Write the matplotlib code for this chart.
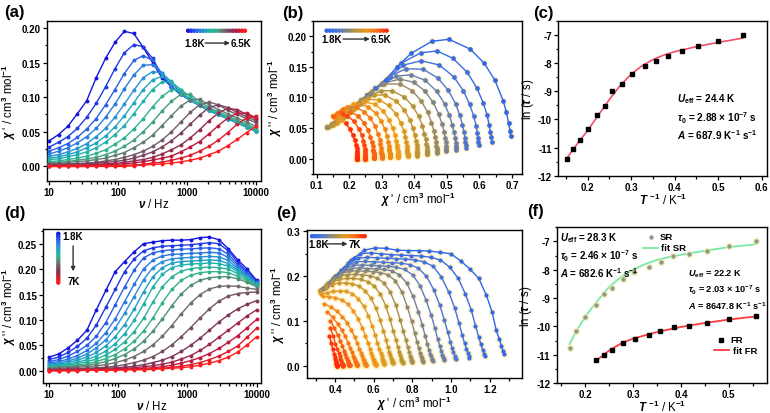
import numpy as np
import matplotlib.pyplot as plt
import matplotlib.ticker as mticker
from matplotlib.colors import LinearSegmentedColormap

plt.rcParams['font.family'] = ['Liberation Sans', 'DejaVu Sans']
plt.rcParams['font.weight'] = 'bold'
plt.rcParams['mathtext.fontset'] = 'custom'
plt.rcParams['mathtext.rm'] = 'Liberation Sans:bold'
plt.rcParams['mathtext.it'] = 'Liberation Sans:bold:italic'
plt.rcParams['mathtext.bf'] = 'Liberation Sans:bold'

# ---------------- data ----------------
freq = [10, 13.7, 18.7, 25.6, 35.1, 48.0, 65.8, 90.0, 123, 169, 231, 316, 433,
        593, 811, 1110, 1520, 2080, 2848, 3900, 5337, 7306, 10000]

temps1 = [1.8, 2.0, 2.2, 2.4, 2.6, 2.8, 3.0, 3.3, 3.6, 3.9, 4.2, 4.5, 5.0, 5.5, 6.0, 6.5]
temps2 = [1.8, 2.0, 2.2, 2.4, 2.6, 2.8, 3.0, 3.3, 3.6, 3.9, 4.2, 4.5, 5.0, 5.5, 6.0, 6.5, 7.0]

# sample 1, chi'' vs frequency (panel a), one row per temperature
chi2_s1 = [
    [.037, .046, .058, .076, .095, .128, .156, .179, .195, .192, .172, .150, .128, .115, .104, .096, .088, .081, .075, .069, .063, .057, .051],
    [.028, .035, .043, .055, .071, .091, .115, .141, .164, .176, .173, .156, .131, .115, .104, .096, .088, .081, .075, .069, .063, .057, .051],
    [.022, .027, .033, .042, .054, .069, .089, .111, .134, .153, .160, .153, .134, .115, .104, .096, .088, .081, .075, .069, .063, .057, .051],
    [.018, .022, .027, .034, .043, .055, .071, .090, .112, .132, .146, .147, .135, .116, .104, .096, .088, .081, .075, .069, .063, .057, .051],
    [.015, .017, .021, .026, .033, .043, .055, .071, .090, .110, .128, .137, .135, .122, .104, .096, .088, .081, .075, .069, .063, .057, .051],
    [.012, .014, .017, .021, .027, .034, .044, .057, .073, .092, .111, .125, .130, .123, .107, .096, .088, .081, .075, .069, .063, .057, .051],
    [.010, .011, .014, .017, .021, .027, .035, .046, .059, .076, .094, .111, .122, .122, .111, .096, .088, .081, .075, .069, .063, .057, .051],
    [.007, .008, .010, .012, .015, .019, .024, .032, .041, .054, .069, .086, .101, .111, .111, .101, .090, .083, .077, .071, .065, .059, .053],
    [.005, .006, .007, .009, .011, .013, .017, .022, .029, .038, .050, .064, .080, .094, .104, .104, .094, .085, .079, .073, .067, .061, .055],
    [.004, .005, .006, .007, .008, .010, .012, .016, .020, .027, .035, .045, .059, .073, .087, .096, .097, .089, .082, .076, .070, .064, .058],
    [.003, .003, .004, .004, .005, .006, .008, .010, .013, .017, .022, .029, .038, .050, .064, .078, .089, .093, .089, .081, .075, .069, .063],
    [.003, .003, .003, .004, .004, .005, .006, .007, .009, .012, .016, .021, .028, .037, .048, .061, .074, .085, .089, .085, .078, .072, .066],
    [.001, .002, .002, .002, .002, .003, .004, .004, .006, .008, .010, .013, .018, .024, .031, .041, .053, .066, .077, .084, .082, .075, .069],
    [.001, .001, .001, .002, .002, .002, .003, .003, .004, .005, .007, .009, .012, .015, .021, .028, .036, .047, .059, .070, .077, .077, .070],
    [.000, .000, .000, .000, .000, .001, .001, .001, .002, .002, .003, .005, .006, .009, .012, .016, .022, .029, .038, .049, .061, .070, .073],
    [.000, .000, .000, .000, .000, .000, .000, .000, .000, .001, .002, .003, .0035, .005, .0065, .009, .012, .017, .022, .030, .039, .049, .058],
]

# sample 1, chi' at the same frequencies (panel b x values)
chi1_s1 = [
    [.696, .694, .690, .683, .673, .648, .615, .572, .507, .455, .390, .347, .312, .281, .256, .237, .218, .202, .188, .174, .160, .146, .132],
    [.638, .636, .634, .630, .624, .612, .593, .563, .519, .470, .420, .360, .315, .281, .256, .237, .218, .202, .188, .174, .160, .146, .132],
    [.598, .597, .596, .594, .590, .583, .570, .551, .521, .477, .422, .367, .325, .281, .256, .237, .218, .202, .188, .174, .160, .146, .132],
    [.559, .558, .557, .556, .553, .548, .540, .527, .504, .472, .428, .375, .326, .284, .256, .237, .218, .202, .188, .174, .160, .146, .132],
    [.529, .529, .528, .527, .526, .522, .517, .508, .493, .469, .434, .390, .345, .302, .256, .237, .218, .202, .188, .174, .160, .146, .132],
    [.499, .499, .499, .498, .497, .495, .492, .485, .475, .458, .432, .398, .356, .302, .263, .237, .218, .202, .188, .174, .160, .146, .132],
    [.470, .470, .469, .469, .468, .467, .464, .460, .453, .441, .422, .394, .357, .307, .271, .237, .218, .202, .188, .174, .160, .146, .132],
    [.440, .440, .439, .439, .439, .438, .437, .435, .431, .425, .414, .395, .369, .332, .298, .258, .234, .212, .198, .184, .170, .156, .142],
    [.410, .410, .410, .409, .409, .409, .408, .407, .405, .402, .396, .386, .369, .345, .309, .277, .241, .223, .208, .194, .180, .166, .152],
    [.380, .380, .380, .380, .380, .379, .379, .379, .378, .376, .373, .368, .358, .344, .321, .293, .256, .225, .214, .205, .192, .178, .164],
    [.350, .350, .350, .350, .350, .350, .350, .349, .349, .348, .347, .345, .341, .334, .322, .304, .279, .246, .213, .193, .184, .175, .169],
    [.325, .325, .325, .325, .325, .325, .325, .325, .325, .324, .323, .322, .320, .316, .310, .299, .282, .258, .225, .192, .175, .165, .157],
    [.300, .300, .300, .300, .300, .300, .300, .300, .300, .300, .299, .299, .298, .296, .294, .288, .280, .265, .246, .220, .181, .162, .151],
    [.275, .275, .275, .275, .275, .275, .275, .275, .275, .275, .275, .275, .274, .273, .272, .269, .265, .258, .245, .227, .203, .175, .151],
    [.250, .250, .250, .250, .250, .250, .250, .250, .250, .250, .250, .250, .250, .249, .249, .248, .246, .244, .239, .230, .215, .195, .182],
    [.225, .225, .225, .225, .225, .225, .225, .225, .225, .225, .225, .225, .225, .225, .225, .224, .224, .223, .221, .217, .211, .202, .189],
]

# sample 2, chi'' vs frequency (panel d)
chi2_s2 = [
    [.027, .033, .045, .060, .080, .120, .158, .195, .215, .234, .250, .253, .256, .257, .257, .258, .262, .263, .258, .240, .218, .200, .178],
    [.022, .027, .036, .048, .064, .090, .125, .160, .195, .220, .236, .242, .245, .246, .247, .248, .250, .252, .250, .236, .213, .195, .176],
    [.018, .022, .029, .038, .050, .068, .095, .130, .165, .198, .222, .232, .236, .238, .239, .240, .241, .242, .240, .229, .209, .192, .174],
    [.015, .018, .023, .030, .040, .054, .075, .102, .136, .170, .200, .218, .226, .229, .230, .231, .232, .233, .232, .223, .205, .189, .173],
    [.013, .015, .019, .025, .033, .045, .061, .084, .113, .146, .179, .203, .215, .220, .222, .223, .224, .225, .224, .217, .201, .187, .172],
    [.011, .013, .016, .021, .027, .036, .049, .067, .091, .121, .155, .185, .203, .212, .215, .216, .217, .218, .217, .211, .198, .185, .171],
    [.009, .011, .013, .017, .022, .029, .039, .053, .073, .099, .131, .165, .190, .203, .208, .210, .211, .212, .211, .206, .195, .183, .170],
    [.008, .009, .011, .014, .018, .023, .031, .042, .057, .077, .103, .135, .165, .185, .196, .201, .203, .204, .203, .200, .191, .180, .169],
    [.007, .008, .009, .011, .014, .018, .024, .032, .043, .058, .078, .104, .134, .160, .178, .188, .193, .195, .195, .193, .186, .177, .167],
    [.006, .007, .008, .009, .011, .014, .018, .024, .032, .043, .058, .078, .102, .128, .151, .168, .178, .183, .185, .185, .181, .174, .165],
    [.004, .005, .006, .007, .008, .010, .012, .016, .021, .028, .038, .051, .068, .089, .112, .133, .150, .161, .166, .167, .166, .163, .160],
    [.003, .003, .004, .004, .005, .006, .007, .009, .012, .016, .021, .028, .038, .051, .067, .085, .104, .122, .137, .147, .152, .154, .155],
    [.002, .002, .003, .003, .003, .004, .005, .006, .007, .009, .012, .016, .021, .028, .038, .050, .064, .080, .096, .110, .122, .131, .138],
    [.001, .001, .002, .002, .002, .003, .003, .004, .005, .006, .008, .010, .013, .017, .023, .030, .040, .052, .066, .080, .094, .108, .120],
    [.001, .001, .001, .001, .002, .002, .002, .003, .003, .004, .005, .006, .008, .011, .015, .020, .026, .034, .044, .056, .069, .085, .101],
    [.000, .000, .001, .001, .001, .001, .002, .002, .002, .003, .003, .004, .005, .007, .009, .012, .016, .022, .029, .038, .049, .066, .084],
    [.000, .000, .000, .000, .001, .001, .001, .001, .002, .002, .002, .003, .004, .005, .006, .008, .011, .015, .020, .027, .037, .051, .067],
]

# sample 2, chi' (panel e x values)
chi1_s2 = [
    [1.275, 1.268, 1.260, 1.249, 1.233, 1.212, 1.182, 1.143, 1.099, 1.050, .998, .943, .888, .832, .776, .720, .664, .607, .551, .497, .447, .401, .360],
    [1.175, 1.170, 1.163, 1.154, 1.143, 1.126, 1.104, 1.074, 1.037, .993, .945, .895, .844, .792, .741, .689, .636, .584, .531, .480, .433, .390, .351],
    [1.095, 1.091, 1.086, 1.079, 1.070, 1.058, 1.041, 1.018, .987, .950, .907, .860, .812, .764, .715, .666, .616, .567, .517, .469, .424, .383, .345],
    [1.025, 1.022, 1.018, 1.012, 1.005, .996, .983, .965, .941, .910, .872, .830, .785, .739, .693, .646, .600, .553, .506, .460, .417, .377, .340],
    [.965, .962, .959, .954, .949, .941, .930, .916, .897, .871, .839, .801, .759, .716, .672, .628, .584, .539, .494, .451, .409, .371, .335],
    [.905, .903, .900, .896, .892, .886, .877, .866, .851, .830, .803, .770, .733, .692, .651, .609, .567, .525, .483, .441, .402, .365, .330],
    [.855, .853, .851, .848, .844, .839, .833, .824, .812, .796, .774, .745, .711, .674, .634, .594, .554, .514, .473, .433, .395, .359, .325],
    [.800, .798, .796, .794, .791, .787, .782, .775, .766, .753, .736, .714, .685, .652, .616, .579, .540, .502, .463, .425, .388, .353, .320],
    [.750, .749, .747, .745, .743, .740, .736, .731, .723, .714, .701, .684, .662, .634, .602, .568, .532, .495, .459, .422, .386, .352, .320],
    [.700, .699, .697, .696, .694, .692, .689, .685, .679, .672, .663, .650, .633, .612, .585, .555, .523, .489, .454, .420, .385, .352, .320],
    [.655, .654, .653, .652, .650, .648, .646, .643, .640, .635, .628, .619, .608, .592, .572, .548, .519, .489, .456, .423, .390, .357, .325],
    [.610, .609, .609, .608, .607, .605, .604, .602, .600, .597, .593, .587, .580, .570, .557, .541, .520, .495, .467, .435, .402, .369, .335],
    [.560, .560, .559, .558, .557, .557, .555, .554, .553, .551, .548, .545, .540, .534, .526, .515, .501, .484, .462, .437, .409, .378, .345],
    [.515, .515, .514, .514, .513, .513, .512, .511, .510, .509, .507, .505, .502, .498, .493, .487, .478, .467, .452, .434, .413, .388, .360],
    [.475, .475, .475, .474, .474, .474, .473, .473, .472, .471, .470, .469, .467, .465, .462, .458, .453, .447, .438, .427, .413, .396, .375],
    [.440, .440, .440, .440, .439, .439, .439, .439, .438, .438, .437, .436, .435, .434, .432, .430, .427, .424, .418, .411, .402, .391, .375],
    [.410, .410, .410, .410, .410, .410, .410, .409, .409, .409, .408, .408, .407, .407, .406, .404, .403, .401, .398, .393, .388, .380, .370],
]

# panel c: ln(tau) vs 1/T, sample 1
invT_c = [0.154, 0.166, 0.182, 0.201, 0.222, 0.239, 0.257, 0.279, 0.303, 0.332, 0.358, 0.385, 0.417, 0.454, 0.500, 0.556]
lntau_c = [-11.41, -11.05, -10.72, -10.33, -9.86, -9.54, -9.00, -8.74, -8.39, -8.09, -7.93, -7.75, -7.56, -7.39, -7.21, -7.00]
fit_x_c = [0.154, 0.175, 0.2, 0.225, 0.25, 0.275, 0.3, 0.325, 0.35, 0.375, 0.4, 0.45, 0.5, 0.556]
fit_y_c = [-11.35, -10.9, -10.4, -9.85, -9.3, -8.8, -8.4, -8.1, -7.88, -7.72, -7.6, -7.42, -7.27, -7.12]

# panel f: sample 2, slow (SR) and fast (FR) relaxation
invT_sr = [0.167, 0.180, 0.199, 0.223, 0.239, 0.255, 0.278, 0.302, 0.333, 0.358, 0.383, 0.417, 0.455, 0.500, 0.556]
lntau_sr = [-10.77, -10.15, -9.66, -9.25, -8.86, -8.64, -8.31, -8.09, -7.90, -7.73, -7.53, -7.46, -7.32, -7.15, -7.00]
invT_fr = [0.222, 0.238, 0.256, 0.278, 0.303, 0.333, 0.357, 0.385, 0.417, 0.455, 0.500, 0.556]
lntau_fr = [-11.20, -11.00, -10.82, -10.60, -10.43, -10.30, -10.17, -10.02, -9.98, -9.87, -9.75, -9.65]
fit_x_sr = [0.167, 0.18, 0.2, 0.225, 0.25, 0.275, 0.3, 0.325, 0.35, 0.375, 0.4, 0.45, 0.5, 0.556]
fit_y_sr = [-10.62, -10.2, -9.65, -9.1, -8.6, -8.25, -8.0, -7.8, -7.65, -7.55, -7.47, -7.33, -7.2, -7.1]
fit_x_fr = [0.222, 0.25, 0.275, 0.3, 0.35, 0.4, 0.45, 0.5, 0.556]
fit_y_fr = [-11.22, -10.85, -10.6, -10.43, -10.2, -10.02, -9.88, -9.76, -9.65]

# ---------------- colours ----------------
cm_freq = LinearSegmentedColormap.from_list('freq', ['#1414e0', '#2a5fe8', '#2a8fd8', '#1fb0b0', '#35b38a',
                                                     '#6f6f6f', '#7a3a5e', '#c0183c', '#ff1c1c'])
cm_cole = LinearSegmentedColormap.from_list('cole', ['#2f66e8', '#4674dc', '#7d8490', '#b89438',
                                                     '#eb9a1e', '#f6701a', '#ff2a10'])

LAB = 8.3


def style(ax):
    for s in ax.spines.values():
        s.set_linewidth(1.0)
    ax.tick_params(which='both', direction='out', labelsize=7, width=0.9, top=False, right=False, pad=1.5)
    ax.tick_params(which='major', length=3)
    ax.tick_params(which='minor', length=1.8)


def dot_row(ax, x0, x1, y, n, cmap):
    xs = np.linspace(x0, x1, n)
    ax.scatter(xs, [y] * n, s=5, c=[cmap(i / (n - 1)) for i in range(n)],
               transform=ax.transAxes, zorder=5, clip_on=False)


def arrow(ax, x0, y0, x1, y1):
    ax.annotate('', xy=(x1, y1), xytext=(x0, y0), xycoords='axes fraction',
                arrowprops=dict(arrowstyle='-|>', color='#333333', lw=1.0, mutation_scale=6,
                                shrinkA=0, shrinkB=0))


fig = plt.figure(figsize=(7.7, 4.14), dpi=100)
axa = fig.add_axes([0.0610, 0.5604, 0.2779, 0.3865])
axb = fig.add_axes([0.4069, 0.5773, 0.2706, 0.3696])
axc = fig.add_axes([0.7251, 0.5732, 0.2710, 0.3744])
axd = fig.add_axes([0.0562, 0.0725, 0.2827, 0.3720])
axe = fig.add_axes([0.3983, 0.0846, 0.2792, 0.3575])
axf = fig.add_axes([0.7230, 0.0725, 0.2731, 0.3760])

ylab_chi2 = r"$\chi$ '' / cm$^3$ mol$^{-1}$"
xlab_chi1 = r"$\chi$ ' / cm$^3$ mol$^{-1}$"

# ----- (a) -----
n1 = len(temps1)
for i in range(n1):
    col = cm_freq(i / (n1 - 1))
    axa.plot(freq, chi2_s1[i], '-', color=col, lw=1.0, zorder=2)
    axa.plot(freq, chi2_s1[i], 'o', color=col, ms=2.8, mec='none', zorder=3)
axa.set_xscale('log')
axa.set_xlim(9.3, 11800)
axa.set_ylim(-0.021, 0.21)
axa.xaxis.set_major_formatter(mticker.FuncFormatter(lambda v, p: f'{v:g}'))
axa.yaxis.set_major_locator(mticker.MultipleLocator(0.05))
axa.yaxis.set_minor_locator(mticker.MultipleLocator(0.025))
axa.yaxis.set_major_formatter(mticker.FormatStrFormatter('%.2f'))
axa.set_ylabel(r"$\chi$ ' / cm$^3$ mol$^{-1}$", fontsize=LAB)
axa.set_xlabel(r"$\nu$ / Hz", fontsize=LAB, labelpad=0)
axa.yaxis.set_label_coords(-0.135, 0.5)
style(axa)
dot_row(axa, 0.66, 0.925, 0.939, 20, cm_freq)
axa.text(0.64, 0.862, '1.8K', transform=axa.transAxes, fontsize=7, va='center')
arrow(axa, 0.74, 0.862, 0.855, 0.862)
axa.text(0.86, 0.862, '6.5K', transform=axa.transAxes, fontsize=7, va='center')

# ----- (b) -----
for i in range(n1):
    col = cm_cole(i / (n1 - 1))
    axb.plot(chi1_s1[i], chi2_s1[i], 'o', color='#ffe9a0', ms=5.5, mec='none', alpha=0.45, zorder=1)
    axb.plot(chi1_s1[i], chi2_s1[i], '-', color=col, lw=1.0, zorder=2)
    axb.plot(chi1_s1[i], chi2_s1[i], 'o', color=col, ms=3.4, mec='none', zorder=3)
axb.set_xlim(0.09, 0.73)
axb.set_ylim(-0.025, 0.225)
axb.xaxis.set_major_locator(mticker.MultipleLocator(0.1))
axb.xaxis.set_minor_locator(mticker.MultipleLocator(0.05))
axb.xaxis.set_major_formatter(mticker.FormatStrFormatter('%.1f'))
axb.yaxis.set_major_locator(mticker.MultipleLocator(0.05))
axb.yaxis.set_minor_locator(mticker.MultipleLocator(0.025))
axb.yaxis.set_major_formatter(mticker.FormatStrFormatter('%.2f'))
axb.set_ylabel(ylab_chi2, fontsize=LAB)
axb.set_xlabel(xlab_chi1, fontsize=LAB, labelpad=0)
axb.yaxis.set_label_coords(-0.14, 0.5)
style(axb)
dot_row(axb, 0.064, 0.352, 0.937, 20, cm_cole)
axb.text(0.04, 0.882, '1.8K', transform=axb.transAxes, fontsize=7, va='center')
arrow(axb, 0.143, 0.882, 0.271, 0.882)
axb.text(0.277, 0.882, '6.5K', transform=axb.transAxes, fontsize=7, va='center')

# ----- (c) -----
axc.plot(fit_x_c, fit_y_c, '-', color='#f0506a', lw=1.2, zorder=2)
axc.plot(invT_c, lntau_c, 's', color='black', ms=3.4, zorder=3)
axc.set_xlim(0.133, 0.612)
axc.set_ylim(-12, -6.5)
axc.xaxis.set_major_locator(mticker.MultipleLocator(0.1))
axc.xaxis.set_minor_locator(mticker.MultipleLocator(0.05))
axc.xaxis.set_major_formatter(mticker.FormatStrFormatter('%.1f'))
axc.yaxis.set_major_locator(mticker.MultipleLocator(1))
axc.yaxis.set_minor_locator(mticker.MultipleLocator(0.5))
axc.yaxis.set_major_formatter(mticker.FormatStrFormatter('%d'))
axc.set_ylabel(r"ln ($\tau$ / s)", fontsize=LAB)
axc.set_xlabel(r"$T$ $^{-1}$ / K$^{-1}$", fontsize=LAB, labelpad=0)
axc.yaxis.set_label_coords(-0.105, 0.5)
style(axc)
axc.text(0.569, 0.501, r"$U_\mathrm{eff}$ = 24.4 K", transform=axc.transAxes, fontsize=7.2, va='center')
axc.text(0.569, 0.379, r"$\tau_0$ = 2.88 $\times$ 10$^{-7}$ s", transform=axc.transAxes, fontsize=7.2, va='center')
axc.text(0.569, 0.269, r"$A$ = 687.9 K$^{-1}$ s$^{-1}$", transform=axc.transAxes, fontsize=7.2, va='center')

# ----- (d) -----
n2 = len(temps2)
for i in range(n2):
    col = cm_freq(i / (n2 - 1))
    axd.plot(freq, chi2_s2[i], '-', color=col, lw=1.0, zorder=2)
    axd.plot(freq, chi2_s2[i], 'o', color=col, ms=2.8, mec='none', zorder=3)
axd.set_xscale('log')
axd.set_xlim(8.2, 11550)
axd.set_ylim(-0.024, 0.279)
axd.xaxis.set_major_formatter(mticker.FuncFormatter(lambda v, p: f'{v:g}'))
axd.yaxis.set_major_locator(mticker.MultipleLocator(0.05))
axd.yaxis.set_minor_locator(mticker.MultipleLocator(0.025))
axd.yaxis.set_major_formatter(mticker.FormatStrFormatter('%.2f'))
axd.set_ylabel(ylab_chi2, fontsize=LAB)
axd.set_xlabel(r"$\nu$ / Hz", fontsize=LAB, labelpad=0)
axd.yaxis.set_label_coords(-0.117, 0.5)
style(axd)
ys = np.linspace(0.968, 0.652, 20)
axd.scatter([0.069] * 20, ys, s=5, c=[cm_freq(i / 19) for i in range(20)],
            transform=axd.transAxes, zorder=5)
axd.text(0.086, 0.955, '1.8K', transform=axd.transAxes, fontsize=7, va='center')
arrow(axd, 0.137, 0.89, 0.137, 0.725)
axd.text(0.114, 0.66, '7K', transform=axd.transAxes, fontsize=7, va='center')

# ----- (e) -----
for i in range(n2):
    col = cm_cole(i / (n2 - 1))
    axe.plot(chi1_s2[i], chi2_s2[i], 'o', color='#ffe9a0', ms=5.5, mec='none', alpha=0.45, zorder=1)
    axe.plot(chi1_s2[i], chi2_s2[i], '-', color=col, lw=1.0, zorder=2)
    axe.plot(chi1_s2[i], chi2_s2[i], 'o', color=col, ms=3.0, mec='none', zorder=3)
axe.set_xlim(0.253, 1.365)
axe.set_ylim(-0.027, 0.303)
axe.xaxis.set_major_locator(mticker.MultipleLocator(0.2))
axe.xaxis.set_minor_locator(mticker.MultipleLocator(0.1))
axe.xaxis.set_major_formatter(mticker.FormatStrFormatter('%.1f'))
axe.yaxis.set_major_locator(mticker.MultipleLocator(0.1))
axe.yaxis.set_minor_locator(mticker.MultipleLocator(0.05))
axe.yaxis.set_major_formatter(mticker.FormatStrFormatter('%.1f'))
axe.set_ylabel(ylab_chi2, fontsize=LAB)
axe.set_xlabel(xlab_chi1, fontsize=LAB, labelpad=0)
axe.yaxis.set_label_coords(-0.09, 0.5)
style(axe)
dot_row(axe, 0.025, 0.27, 0.958, 22, cm_cole)
axe.text(0.006, 0.906, '1.8K', transform=axe.transAxes, fontsize=7, va='center')
arrow(axe, 0.093, 0.906, 0.19, 0.906)
axe.text(0.197, 0.906, '7K', transform=axe.transAxes, fontsize=7, va='center')

# ----- (f) -----
axf.plot(fit_x_sr, fit_y_sr, '-', color='#78eaa6', lw=1.3, zorder=2)
axf.plot(fit_x_fr, fit_y_fr, '-', color='#ff3a3a', lw=1.3, zorder=2)
axf.plot(invT_sr, lntau_sr, 'o', color='#ffe9a0', ms=5.2, mec='none', alpha=0.7, zorder=2)
axf.plot(invT_sr, lntau_sr, 'o', color='#8c9c8a', ms=3.2, mec='none', zorder=3)
axf.plot(invT_fr, lntau_fr, 's', color='black', ms=2.8, zorder=3)
axf.set_xlim(0.14, 0.58)
axf.set_ylim(-12, -6.5)
axf.xaxis.set_major_locator(mticker.MultipleLocator(0.1))
axf.xaxis.set_minor_locator(mticker.MultipleLocator(0.05))
axf.xaxis.set_major_formatter(mticker.FormatStrFormatter('%.1f'))
axf.yaxis.set_major_locator(mticker.MultipleLocator(1))
axf.yaxis.set_minor_locator(mticker.MultipleLocator(0.5))
axf.yaxis.set_major_formatter(mticker.FormatStrFormatter('%d'))
axf.set_ylabel(r"ln ($\tau$ / s)", fontsize=LAB)
axf.set_xlabel(r"$T$ $^{-1}$ / K$^{-1}$", fontsize=LAB, labelpad=0)
axf.yaxis.set_label_coords(-0.11, 0.5)
style(axf)
tl = dict(transform=axf.transAxes, fontsize=7.0, va='center')
tf = dict(transform=axf.transAxes, fontsize=6.6, va='center')
tg = dict(transform=axf.transAxes, fontsize=6.8, va='center')
axf.text(0.016, 0.938, r"$U_\mathrm{eff}$ = 28.3 K", **tl)
axf.text(0.016, 0.819, r"$\tau_0$ = 2.46 $\times$ 10$^{-7}$ s", **tl)
axf.text(0.016, 0.715, r"$A$ = 682.6 K$^{-1}$ s$^{-1}$", **tl)
axf.text(0.625, 0.702, r"$U_\mathrm{eff}$ = 22.2 K", **tf)
axf.text(0.625, 0.602, r"$\tau_0$ = 2.03 $\times$ 10$^{-7}$ s", **tf)
axf.text(0.625, 0.498, r"$A$ = 8647.8 K$^{-1}$ s$^{-1}$", **tf)
# manual legends
axf.plot([0.448], [0.938], 'o', color='#8c9c8a', ms=3.2, mec='none', transform=axf.transAxes)
axf.text(0.491, 0.938, 'SR', **tg)
axf.plot([0.41, 0.482], [0.868, 0.868], '-', color='#78eaa6', lw=1.3, transform=axf.transAxes)
axf.text(0.497, 0.868, 'fit SR', **tg)
axf.plot([0.78], [0.278], 's', color='black', ms=2.8, transform=axf.transAxes)
axf.text(0.824, 0.278, 'FR', **tg)
axf.plot([0.748, 0.819], [0.21, 0.21], '-', color='#ff3a3a', lw=1.3, transform=axf.transAxes)
axf.text(0.837, 0.21, 'fit FR', **tg)

# panel letters
for x, y, s in [(0.005, 0.971, '(a)'), (0.366, 0.968, '(b)'), (0.692, 0.968, '(c)'),
                (0.005, 0.485, '(d)'), (0.359, 0.485, '(e)'), (0.684, 0.489, '(f)')]:
    fig.text(x, y, s, fontsize=12, fontweight='bold', va='center')

fig.savefig('out.png', dpi=100)
